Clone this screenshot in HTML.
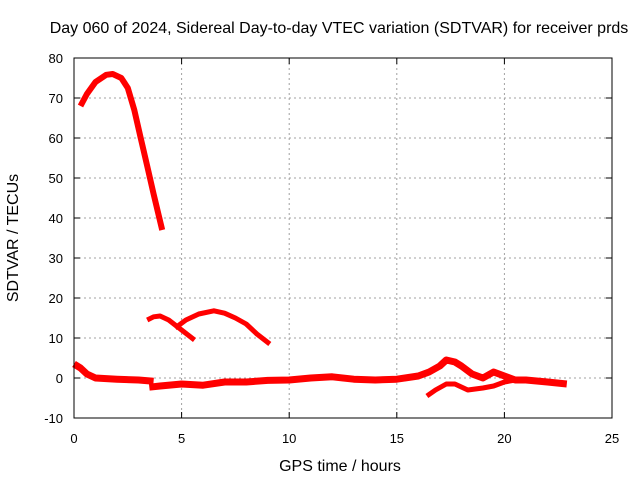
<!DOCTYPE html>
<html><head><meta charset="utf-8"><style>
body{margin:0;background:#fff}
svg{display:block;font-family:"Liberation Sans",sans-serif;font-size:13px}
</style></head><body>
<svg width="640" height="480">
<rect width="640" height="480" fill="#fff"/>
<g id="grid"></g>
<g id="series"></g>
<rect x="74" y="58" width="538" height="360" fill="none" stroke="#000" stroke-width="1"/>
<g id="ticks"></g>
<text x="339" y="33" text-anchor="middle" font-size="16">Day 060 of 2024, Sidereal Day-to-day VTEC variation (SDTVAR) for receiver prds</text>
<text x="340" y="471" text-anchor="middle" font-size="16">GPS time / hours</text>
<text x="18" y="238" text-anchor="middle" font-size="16" transform="rotate(-90 18 238)">SDTVAR / TECUs</text>
</svg>
<script>
const xTicks=[0,5,10,15,20,25];
const yTicks=[-10,0,10,20,30,40,50,60,70,80];
const arcHours=[0.3,0.6,1.0,1.5,1.8,2.2,2.5,2.8,3.1,3.4,3.7,4.1];
const arcValues=[68,71,74,75.8,76,75,72.5,67,60,53,46,37];
const humpHours=[3.4,3.7,4.0,4.4,5.0,5.6];
const humpValues=[14.5,15.3,15.5,14.5,12,9.5];
const hump2Hours=[4.7,5.2,5.8,6.5,7.0,7.5,8.0,8.5,9.1];
const hump2Values=[12.5,14.5,16,16.8,16.2,15,13.5,11,8.5];
const base1Hours=[0,0.3,0.6,1,2,3,3.7];
const base1Values=[3.5,2.5,1,0,-0.3,-0.5,-0.8];
const base2Hours=[3.5,4,5,6,7,8,9,10,11,12,13,14,15,16,16.5,17,17.3,17.7,18,18.5,19,19.5,20,20.5,21,22,22.9];
const base2Values=[-2.3,-2,-1.5,-1.8,-1,-1,-0.6,-0.5,0,0.3,-0.3,-0.5,-0.3,0.5,1.5,3,4.5,4,3,1,0,1.5,0.5,-0.5,-0.5,-1,-1.5];
const lowHours=[16.4,16.8,17.3,17.7,18.3,19,19.5,20,20.5];
const lowValues=[-4.5,-3,-1.5,-1.5,-3,-2.5,-2,-1,-0.5];
const NS="http://www.w3.org/2000/svg";
function X(h){return 74+h*538/25;}
function Y(v){return 58+(80-v)*4;}
const grid=document.getElementById('grid'),ticks=document.getElementById('ticks'),ser=document.getElementById('series');
function mk(t,a,p){const e=document.createElementNS(NS,t);for(const k in a)e.setAttribute(k,a[k]);p.appendChild(e);return e;}
xTicks.forEach(t=>{
 const x=X(t);
 if(t>0&&t<25){const g=mk('line',{x1:x,x2:x,y1:58,y2:418,stroke:'#a0a0a0','stroke-dasharray':'2,3'},grid);
 
 }
 mk('line',{x1:x,x2:x,y1:418,y2:412,stroke:'#000'},ticks);
 mk('line',{x1:x,x2:x,y1:58,y2:64,stroke:'#000'},ticks);
 const l=mk('text',{x:x,y:443,'text-anchor':'middle'},ticks);l.textContent=t;
 
 
});
yTicks.forEach(t=>{
 const y=Y(t);
 if(t>-10&&t<80){const g=mk('line',{x1:74,x2:612,y1:y,y2:y,stroke:'#a0a0a0','stroke-dasharray':'2,3'},grid);
 
 }
 mk('line',{x1:74,x2:80,y1:y,y2:y,stroke:'#000'},ticks);
 mk('line',{x1:606,x2:612,y1:y,y2:y,stroke:'#000'},ticks);
 const l=mk('text',{x:63,y:y+5,'text-anchor':'end'},ticks);l.textContent=t;
 
 
});
function draw(hs,vs,name,w){
 const d=hs.map((h,i)=>(i?'L':'M')+X(h).toFixed(1)+','+Y(vs[i]).toFixed(1)).join(' ');
 const p=mk('path',{d:d,fill:'none',stroke:'#ff0000','stroke-width':w,'stroke-linejoin':'round'},ser);
 
 
}
draw(arcHours,arcValues,'series-arc',6);
draw(humpHours,humpValues,'series-hump-1',5);
draw(hump2Hours,hump2Values,'series-hump-2',5);
draw(base1Hours,base1Values,'series-baseline-1',7);
draw(base2Hours,base2Values,'series-baseline-2',7);
draw(lowHours,lowValues,'series-low',5);
</script>
</body></html>
